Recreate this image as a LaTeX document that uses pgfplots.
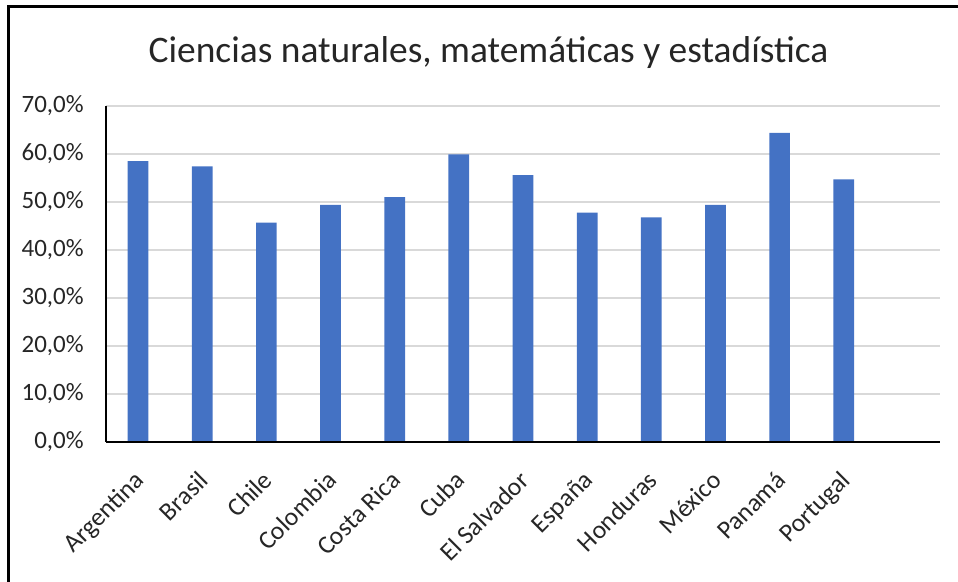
\documentclass[border=0pt]{standalone}
\usepackage{fontspec}
\setmainfont{Carlito}
\usepackage{pgfplots}
\pgfplotsset{compat=1.18}
\definecolor{barblue}{HTML}{4472C4}
\definecolor{gridgray}{HTML}{D9D9D9}
\definecolor{txtgray}{HTML}{262626}
\begin{document}
\begin{tikzpicture}
\useasboundingbox (0,0) rectangle (19.16cm,11.64cm);
\draw[line width=0.054cm] (0.174cm,0) -- (0.174cm,11.506cm) -- (19.3cm,11.506cm);
\node[anchor=base, inner sep=0pt, font=\fontsize{21.3}{25}\selectfont, text=txtgray] at (9.77cm,10.394cm) {Ciencias naturales, matemáticas y estadística};
\begin{axis}[
  at={(2.12cm,2.80cm)}, anchor=south west,
  scale only axis, width=16.68cm, height=6.72cm,
  ybar, bar width=0.414cm,
  xmin=-0.5, xmax=12.5, ymin=0, ymax=70,
  xtick={0,...,11},
  xticklabels={Argentina,Brasil,Chile,Colombia,Costa Rica,Cuba,El Salvador,España,Honduras,México,Panamá,Portugal},
  ytick={0,10,20,30,40,50,60,70},
  yticklabels={{0,0\%},{10,0\%},{20,0\%},{30,0\%},{40,0\%},{50,0\%},{60,0\%},{70,0\%}},
  axis x line=bottom, axis y line=left,
  axis line style={black, line width=0.04cm, -},
  major tick length=0pt,
  ymajorgrids, grid style={gridgray, line width=0.03cm},
  tick label style={font=\fontsize{14.2}{17}\selectfont, text=txtgray},
  yticklabel style={anchor=east, inner sep=0pt, xshift=-0.44cm},
  xticklabel style={font=\fontsize{14.6}{17}\selectfont, inner sep=0pt, xshift=-0.1cm, yshift=-0.54cm, rotate=45, anchor=north east},
]
\addplot[fill=barblue, draw=none] coordinates {
  (0,58.5) (1,57.4) (2,45.7) (3,49.4) (4,51.0) (5,59.9)
  (6,55.6) (7,47.8) (8,46.8) (9,49.4) (10,64.4) (11,54.7)
};
\draw[black, line width=0.04cm] (rel axis cs:0,0) -- (rel axis cs:1,0);
\end{axis}
\end{tikzpicture}
\end{document}
